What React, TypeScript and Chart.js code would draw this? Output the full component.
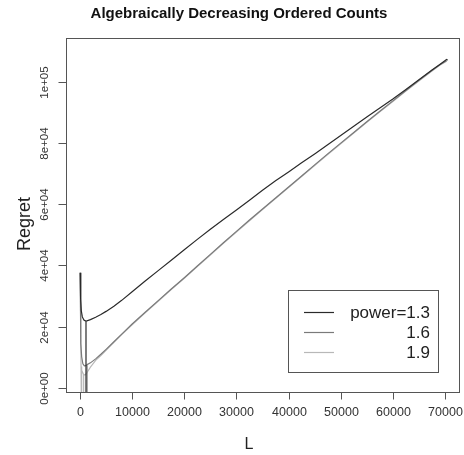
import React, { useEffect, useRef } from "react";
import { Chart, registerables } from "chart.js";

Chart.register(...registerables);

const chartTitle = "Algebraically Decreasing Ordered Counts";
const xAxisLabel = "L";
const yAxisLabel = "Regret";
const xTicks = [0, 10000, 20000, 30000, 40000, 50000, 60000, 70000];
const xTickLabels = ["0", "10000", "20000", "30000", "40000", "50000", "60000", "70000"];
const yTicks = [0, 20000, 40000, 60000, 80000, 100000];
const yTickLabels = ["0e+00", "2e+04", "4e+04", "6e+04", "8e+04", "1e+05"];
const seriesNames = ["power=1.3", "1.6", "1.9"];
const seriesColors = ["#2a2a2a", "#7a7a7a", "#b8b8b8"];

// power = 1.3
const L13 = [40, 120, 250, 450, 750, 1150, 1150, 1150, 2000, 3000, 4000, 5000, 6500, 8000, 10000, 12500, 15000, 17500, 20000, 22500, 25000, 27500, 30000, 32500, 35000, 37500, 40000, 42500, 45000, 47500, 50000, 52500, 55000, 57500, 60000, 62500, 65000, 67500, 69000, 70300, 70500];
const R13 = [37600, 29000, 25200, 23200, 22200, 21800, -20000, 21800, 22300, 23100, 24000, 25000, 26700, 28600, 31400, 34900, 38300, 41700, 45100, 48500, 51800, 55000, 58100, 61300, 64500, 67600, 70500, 73500, 76400, 79400, 82400, 85400, 88400, 91400, 94300, 97400, 100600, 103800, 105600, 107200, 107000];
// power = 1.6
const L16 = [40, 150, 320, 550, 830, 1100, 1350, 1350, 1350, 2000, 3000, 4000, 5000, 6500, 8000, 10000, 12500, 15000, 17500, 20000, 22500, 25000, 27500, 30000, 32500, 35000, 37500, 40000, 42500, 45000, 47500, 50000, 52500, 55000, 57500, 60000, 62500, 65000, 67500, 69000, 70300];
const R16 = [37600, 14500, 10200, 7900, 7200, 7300, 7600, -20000, 7600, 8200, 9500, 11000, 12600, 15100, 17600, 20900, 24700, 28500, 32300, 36000, 39800, 43600, 47400, 51100, 54800, 58400, 62000, 65600, 69200, 72800, 76400, 79900, 83400, 86900, 90300, 93700, 97100, 100400, 103600, 105500, 106800];
// power = 1.9
const L19 = [40, 200, 320, 320, 320, 700, 700, 700, 960, 1300, 2000, 3000, 4000, 5000, 6500, 8000, 10000, 12500, 15000, 17500, 20000, 22500, 25000, 27500, 30000, 32500, 35000, 37500, 40000, 42500, 45000, 47500, 50000, 52500, 55000, 57500, 60000, 62500, 65000, 67500, 69000, 70300];
const R19 = [37600, 7000, 5800, -20000, 5800, 4400, -20000, 4400, 4200, 4900, 6800, 9000, 10600, 12300, 14900, 17400, 20600, 24500, 28300, 32100, 35800, 39600, 43400, 47200, 50900, 54600, 58200, 61800, 65400, 69000, 72600, 76200, 79700, 83200, 86700, 90100, 93500, 96900, 100200, 103400, 105300, 106600];

const X_MIN = -2685;
const X_MAX = 72877;
const Y_MIN = -1307;
const Y_MAX = 114216;

const FONT = "'Liberation Sans', Arial, Helvetica, sans-serif";

const rPlot = {
  id: "rPlot",
  afterDatasetsDraw(chart: any) {
    const ctx = chart.ctx as CanvasRenderingContext2D;
    const xs = chart.scales.x;
    const ys = chart.scales.y;
    const a = chart.chartArea;
    ctx.save();
    // frame
    ctx.strokeStyle = "#555555";
    ctx.lineWidth = 1;
    ctx.strokeRect(Math.round(a.left) + 0.5, Math.round(a.top) + 0.5, Math.round(a.right - a.left) - 1, Math.round(a.bottom - a.top));
    const bottom = Math.round(a.bottom) + 0.5;
    const left = Math.round(a.left) + 0.5;
    // x ticks
    ctx.fillStyle = "#333333";
    ctx.font = `12.5px ${FONT}`;
    ctx.textAlign = "center";
    ctx.textBaseline = "middle";
    xTicks.forEach((v, i) => {
      const px = Math.round(xs.getPixelForValue(v)) + 0.5;
      ctx.beginPath();
      ctx.moveTo(px, bottom);
      ctx.lineTo(px, bottom + 7);
      ctx.stroke();
      ctx.fillText(xTickLabels[i], px, 413);
    });
    // y ticks
    ctx.font = `11.5px ${FONT}`;
    yTicks.forEach((v, i) => {
      const py = Math.round(ys.getPixelForValue(v)) + 0.5;
      ctx.beginPath();
      ctx.moveTo(left - 8, py);
      ctx.lineTo(left, py);
      ctx.stroke();
      ctx.save();
      ctx.translate(45, py);
      ctx.rotate(-Math.PI / 2);
      ctx.fillText(yTickLabels[i], 0, 0);
      ctx.restore();
    });
    // axis titles
    ctx.fillStyle = "#222222";
    ctx.font = `16px ${FONT}`;
    ctx.fillText(xAxisLabel, 249, 445);
    ctx.save();
    ctx.translate(25, 224);
    ctx.rotate(-Math.PI / 2);
    ctx.font = `18px ${FONT}`;
    ctx.fillText(yAxisLabel, 0, 0);
    ctx.restore();
    // main title
    ctx.font = `bold 15px ${FONT}`;
    ctx.fillStyle = "#111111";
    ctx.fillText(chartTitle, 239, 14);
    // legend
    const lx = 288.5, ly = 290.5, lw = 150, lh = 82;
    ctx.fillStyle = "#ffffff";
    ctx.fillRect(lx, ly, lw, lh);
    ctx.strokeStyle = "#555555";
    ctx.strokeRect(lx, ly, lw, lh);
    ctx.font = `17px ${FONT}`;
    ctx.textAlign = "right";
    seriesNames.forEach((name, i) => {
      const yy = 312 + i * 20;
      ctx.strokeStyle = seriesColors[i];
      ctx.lineWidth = 1.2;
      ctx.beginPath();
      ctx.moveTo(304, yy + 0.5);
      ctx.lineTo(334, yy + 0.5);
      ctx.stroke();
      ctx.fillStyle = "#222222";
      ctx.fillText(name, 430, yy + 1);
    });
    ctx.restore();
  },
};

function toPoints(xs: number[], ys: number[]) {
  return xs.map((x, i) => ({ x, y: ys[i] }));
}

export default function App() {
  const ref = useRef<HTMLCanvasElement | null>(null);
  useEffect(() => {
    if (!ref.current) return;
    const chart = new Chart(ref.current, {
      type: "line",
      data: {
        datasets: [
          { label: seriesNames[0], data: toPoints(L13, R13), borderColor: seriesColors[0] },
          { label: seriesNames[1], data: toPoints(L16, R16), borderColor: seriesColors[1] },
          { label: seriesNames[2], data: toPoints(L19, R19), borderColor: seriesColors[2] },
        ].map((d) => ({ ...d, borderWidth: 1.2, pointRadius: 0, tension: 0, fill: false })),
      },
      options: {
        responsive: false,
        animation: false,
        parsing: true,
        layout: { padding: { left: 66, right: 4, top: 38, bottom: 63 } },
        plugins: { legend: { display: false }, title: { display: false }, tooltip: { enabled: false } },
        scales: {
          x: { type: "linear", min: X_MIN, max: X_MAX, display: false },
          y: { type: "linear", min: Y_MIN, max: Y_MAX, display: false },
        },
      },
      plugins: [rPlot],
    });
    return () => chart.destroy();
  }, []);
  return (
    <div style={{ position: "fixed", left: 0, top: 0, width: 464, height: 455, background: "#ffffff" }}>
      <canvas ref={ref} width={464} height={455} style={{ width: 464, height: 455 }} />
    </div>
  );
}
